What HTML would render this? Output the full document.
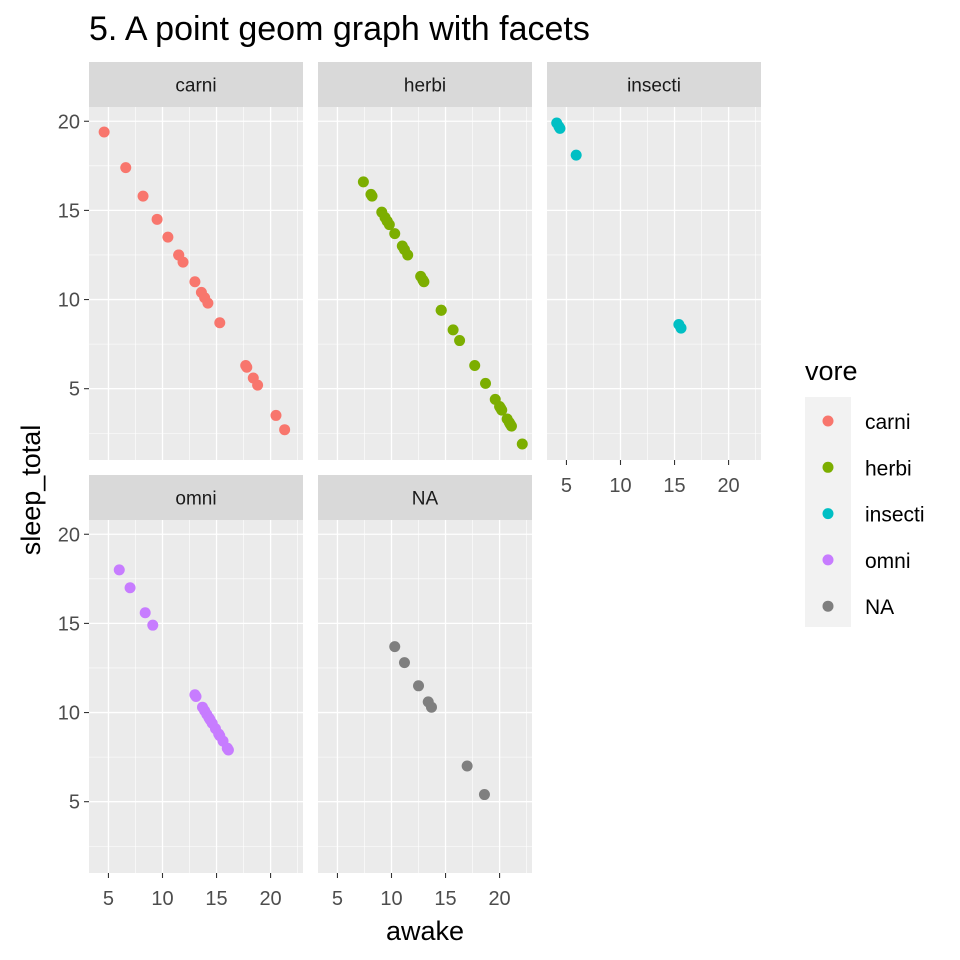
<!DOCTYPE html>
<html><head><meta charset="utf-8"><style>
body{margin:0;background:#fff}
svg{display:block;font-family:"Liberation Sans",Arial,sans-serif}
</style></head><body>
<svg id="chart" width="960" height="960" xmlns="http://www.w3.org/2000/svg">
<text x="89" y="40" font-size="34" fill="#000">5. A point geom graph with facets</text>
<text transform="translate(40,490) rotate(-90)" text-anchor="middle" font-size="27" fill="#000">sleep_total</text>
<text x="425" y="940" text-anchor="middle" font-size="27" fill="#000">awake</text>
</svg>
<script>
const facets=["carni","herbi","insecti","omni","NA"];
const colors=["#F8766D","#7CAE00","#00BFC4","#C77CFF","#7F7F7F"];
const carniSleep=[19.4,17.4,15.8,14.5,13.5,12.5,12.5,12.1,11.0,10.4,10.1,9.8,8.7,6.3,6.2,5.6,5.2,3.5,2.7];
const carniAwake=[4.6,6.6,8.2,9.5,10.5,11.5,11.5,11.9,13.0,13.6,13.9,14.2,15.3,17.7,17.8,18.4,18.8,20.5,21.3];
const herbiSleep=[16.6,15.9,15.8,14.9,14.6,14.4,14.4,14.2,13.7,13.0,12.8,12.5,11.3,11.1,11.0,9.4,9.4,8.3,7.7,6.3,5.3,4.4,4.0,3.9,3.8,3.3,3.1,3.0,2.9,1.9];
const herbiAwake=[7.4,8.1,8.2,9.1,9.4,9.6,9.6,9.8,10.3,11.0,11.2,11.5,12.7,12.9,13.0,14.6,14.6,15.7,16.3,17.7,18.7,19.6,20.0,20.1,20.2,20.7,20.9,21.0,21.1,22.1];
const insectiSleep=[19.9,19.7,19.6,18.1,8.6,8.4];
const insectiAwake=[4.1,4.3,4.4,5.9,15.4,15.6];
const omniSleep=[18.0,17.0,15.6,14.9,11.0,10.9,10.3,10.1,9.9,9.7,9.6,9.4,9.1,8.8,8.7,8.4,8.0,8.0,7.9];
const omniAwake=[6.0,7.0,8.4,9.1,13.0,13.1,13.7,13.9,14.1,14.3,14.4,14.6,14.9,15.2,15.3,15.6,16.0,16.0,16.1];
const naSleep=[13.7,12.8,11.5,10.6,10.3,7.0,5.4];
const naAwake=[10.3,11.2,12.5,13.4,13.7,17.0,18.6];
const xTicks=[5,10,15,20];
const yTicks=[5,10,15,20];
const xMinor=[7.5,12.5,17.5,22.5];
const yMinor=[2.5,7.5,12.5,17.5];
const series=[[carniAwake,carniSleep],[herbiAwake,herbiSleep],[insectiAwake,insectiSleep],[omniAwake,omniSleep],[naAwake,naSleep]];

const NS="http://www.w3.org/2000/svg";
const svg=document.getElementById("chart");
function mk(tag,attrs,parent){const e=document.createElementNS(NS,tag);for(const k in attrs)e.setAttribute(k,attrs[k]);(parent||svg).appendChild(e);return e;}
const xDom=[3.2,23.0], yDom=[1.0,20.8];
const panelW=214, panelH=353, stripH=45;
const colX=[89,318,547], rowY=[107,520];
function sx(v,x0){return x0+(v-xDom[0])/(xDom[1]-xDom[0])*panelW;}
function sy(v,y0){return y0+panelH-(v-yDom[0])/(yDom[1]-yDom[0])*panelH;}

facets.forEach((f,i)=>{
  const c=i%3, r=Math.floor(i/3);
  const x0=colX[c], y0=rowY[r];
  const g=mk("g",{});
  
  
  const strip=mk("rect",{x:x0,y:y0-stripH,width:panelW,height:stripH,fill:"#D9D9D9"},g);
  
  
  const st=mk("text",{x:x0+panelW/2,y:y0-stripH/2+7,"text-anchor":"middle","font-size":"19",fill:"#1A1A1A"},g);
  st.textContent=f;
  
  
  mk("rect",{x:x0,y:y0,width:panelW,height:panelH,fill:"#EBEBEB"},g);
  xMinor.forEach(v=>{const x=sx(v,x0);if(x<x0+panelW)mk("line",{x1:x,x2:x,y1:y0,y2:y0+panelH,stroke:"#fff","stroke-width":0.6},g);});
  yMinor.forEach(v=>{const y=sy(v,y0);mk("line",{x1:x0,x2:x0+panelW,y1:y,y2:y,stroke:"#fff","stroke-width":0.6},g);});
  xTicks.forEach(v=>{const x=sx(v,x0);mk("line",{x1:x,x2:x,y1:y0,y2:y0+panelH,stroke:"#fff","stroke-width":1.3},g);});
  yTicks.forEach(v=>{const y=sy(v,y0);mk("line",{x1:x0,x2:x0+panelW,y1:y,y2:y,stroke:"#fff","stroke-width":1.3},g);});
  const [xs,ys]=series[i];
  xs.forEach((xv,k)=>{
    const p=mk("circle",{cx:sx(xv,x0),cy:sy(ys[k],y0),r:5.5,fill:colors[i]},g);
    
    
  });
  if(c===0){
    yTicks.forEach(v=>{const y=sy(v,y0);
      mk("line",{x1:x0-5,x2:x0,y1:y,y2:y,stroke:"#333","stroke-width":1.1},g);
      const t=mk("text",{x:x0-9,y:y+7,"text-anchor":"end","font-size":"20",fill:"#4D4D4D"},g);t.textContent=v;
      
      
    });
  }
  if(r===1||c===2){
    xTicks.forEach(v=>{const x=sx(v,x0);
      mk("line",{x1:x,x2:x,y1:y0+panelH,y2:y0+panelH+5,stroke:"#333","stroke-width":1.1},g);
      const t=mk("text",{x:x,y:y0+panelH+32,"text-anchor":"middle","font-size":"20",fill:"#4D4D4D"},g);t.textContent=v;
      
      
    });
  }
});

const lg=mk("g",{});


const lt=mk("text",{x:805,y:380,"font-size":"27",fill:"#000"},lg);lt.textContent="vore";
mk("rect",{x:805,y:397,width:46,height:230,fill:"#F2F2F2"},lg);
facets.forEach((f,i)=>{
  const y=421+i*46.3;
  const d=mk("circle",{cx:828,cy:y,r:5.5,fill:colors[i]},lg);
  
  
  const t=mk("text",{x:865,y:y+8,"font-size":"21",fill:"#000"},lg);t.textContent=f;
  
  
});
</script>
</body></html>
